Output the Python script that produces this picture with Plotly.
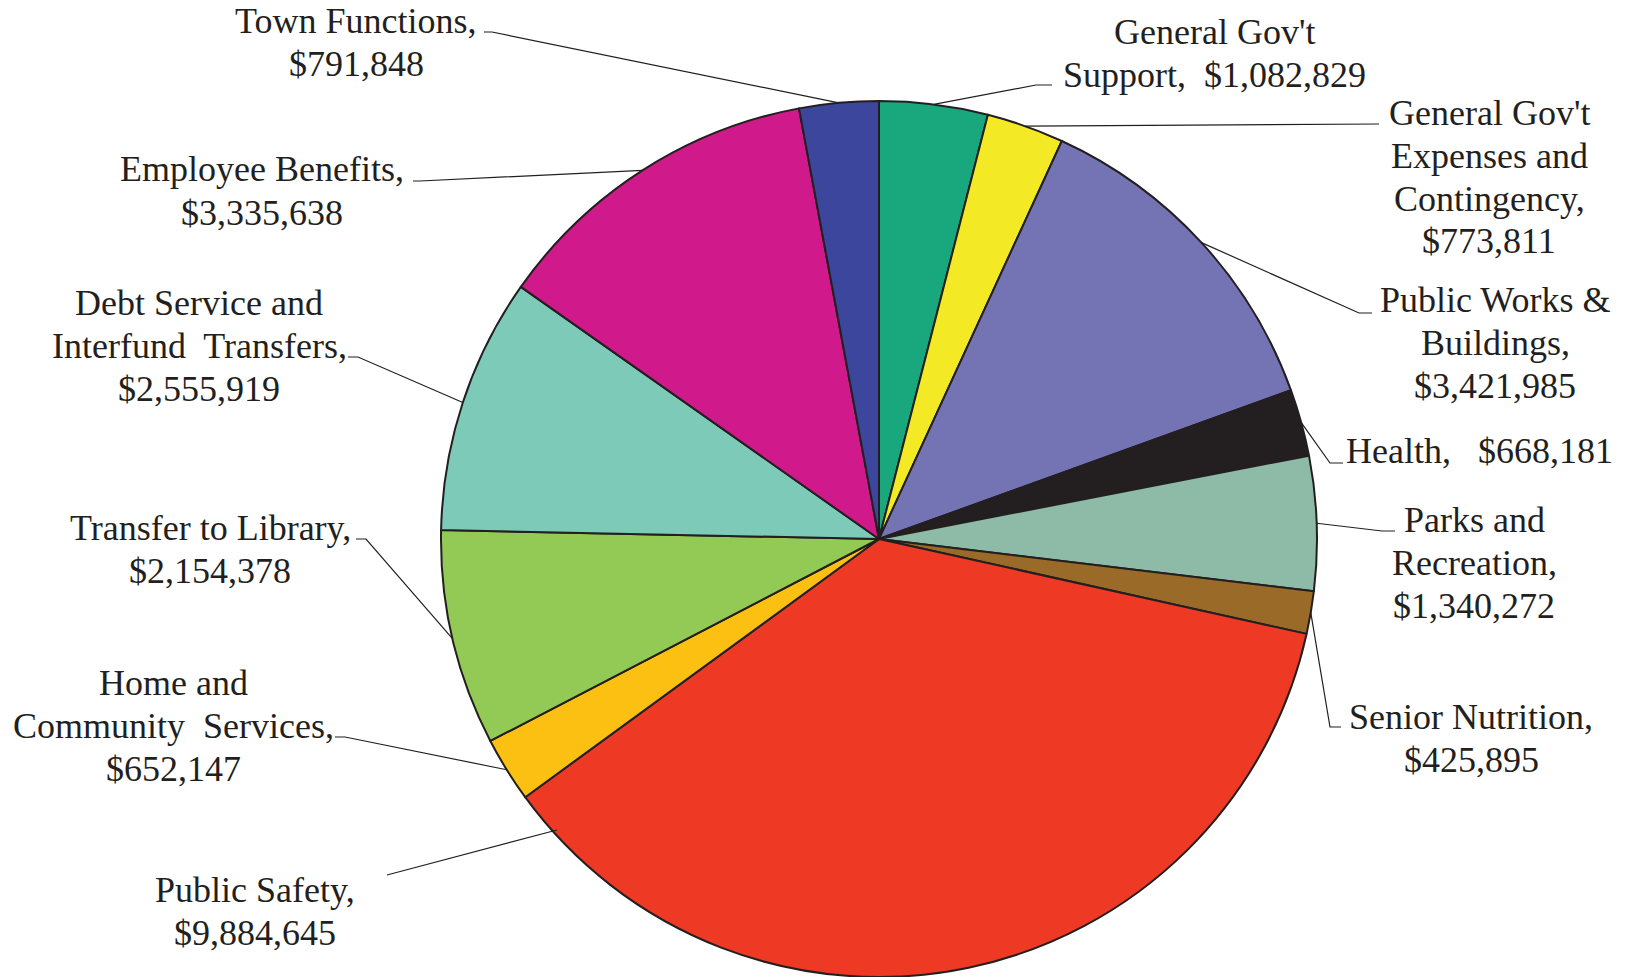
import math
import plotly.graph_objects as go

# Budget categories, clockwise from 12 o'clock
categories = [
    "General Gov't Support",
    "General Gov't Expenses and Contingency",
    "Public Works & Buildings",
    "Health",
    "Parks and Recreation",
    "Senior Nutrition",
    "Public Safety",
    "Home and Community Services",
    "Transfer to Library",
    "Debt Service and Interfund Transfers",
    "Employee Benefits",
    "Town Functions",
]
amounts = [
    1082829, 773811, 3421985, 668181, 1340272, 425895,
    9884645, 652147, 2154378, 2555919, 3335638, 791848,
]
NB = "\u00a0"
# Label lines as printed next to each slice
label_lines = [
    ["General Gov't", f"Support,{NB} $1,082,829"],
    ["General Gov't", "Expenses and", "Contingency,", "$773,811"],
    ["Public Works &amp;", "Buildings,", "$3,421,985"],
    [f"Health,{NB}{NB} $668,181"],
    ["Parks and", "Recreation,", "$1,340,272"],
    ["Senior Nutrition,", "$425,895"],
    ["Public Safety,", "$9,884,645"],
    ["Home and", f"Community{NB} Services,", "$652,147"],
    ["Transfer to Library,", "$2,154,378"],
    ["Debt Service and", f"Interfund{NB} Transfers,", "$2,555,919"],
    ["Employee Benefits,", "$3,335,638"],
    ["Town Functions,", "$791,848"],
]
slice_colors = [
    "#19A77E", "#F3EA25", "#7474B4", "#231F20", "#8DBBA7", "#9A6A28",
    "#EE3924", "#FBC012", "#93C955", "#7DCAB9", "#D0198A", "#3B469C",
]

W, H = 1629, 977
CX, CY, R = 879, 539, 438
LINE_GAP = 43

# Label block centres (px) and leader-line label-side points (px)
label_pos = [
    (1214, 53), (1489, 177), (1495, 343), (1479, 451), (1474, 563), (1471, 738),
    (255, 911), (173, 726), (210, 549), (199, 346), (262, 191), (356, 42),
]
leader_tail = [
    [(1052, 85), (1036, 85)],
    [(1379, 124)],
    [(1372, 313), (1359, 313)],
    [(1343, 463), (1330, 463)],
    [(1395, 531), (1382, 531)],
    [(1341, 727), (1330, 727)],
    [(387, 875)],
    [(335, 737), (345, 737)],
    [(356, 539), (366, 539)],
    [(348, 357), (358, 357)],
    [(413, 181), (420, 181)],
    [(484, 32), (492, 32)],
]
# Public Safety's leader points at the slice's left side rather than its middle
anchor_override = {6: (227.9, 434)}


def px_to_paper(x, y):
    return x / W, 1 - y / H


fig = go.Figure()
fig.add_trace(go.Pie(
    labels=categories,
    values=amounts,
    sort=False,
    direction="clockwise",
    rotation=0,
    textinfo="none",
    hoverinfo="label+value",
    marker=dict(colors=slice_colors, line=dict(color="#231F20", width=2)),
    domain=dict(x=[(CX - R) / W, (CX + R) / W], y=[(H - CY - R) / H, (H - CY + R) / H]),
    showlegend=False,
))

total = sum(amounts)
shapes = []
annotations = []
label_font = dict(family="Liberation Serif, Times New Roman, serif", size=36, color="#231F20")
cum = 0.0
for i, v in enumerate(amounts):
    mid = (cum + v / 2) / total * 360.0
    cum += v
    ang, rad = anchor_override.get(i, (mid, R))
    a = math.radians(ang)
    ex, ey = CX + rad * math.sin(a), CY - rad * math.cos(a)
    pts = leader_tail[i] + [(ex, ey)]
    path = ""
    for k, (x, y) in enumerate(pts):
        px, py = px_to_paper(x, y)
        path += ("M" if k == 0 else " L") + f" {px:.5f},{py:.5f}"
    shapes.append(dict(type="path", path=path, xref="paper", yref="paper",
                       line=dict(color="#231F20", width=1.2), layer="above"))

    lines = label_lines[i]
    bx, by = label_pos[i]
    n = len(lines)
    for k, line in enumerate(lines):
        ly_px = by + (k - (n - 1) / 2) * LINE_GAP
        lx, ly = px_to_paper(bx, ly_px)
        annotations.append(dict(
            text=line, x=lx, y=ly, xref="paper", yref="paper",
            xanchor="center", yanchor="middle", align="center", showarrow=False,
            font=label_font,
        ))

fig.update_layout(
    width=W, height=H,
    margin=dict(l=0, r=0, t=0, b=0),
    paper_bgcolor="white",
    plot_bgcolor="white",
    shapes=shapes,
    annotations=annotations,
)

fig.write_html("out.html")
